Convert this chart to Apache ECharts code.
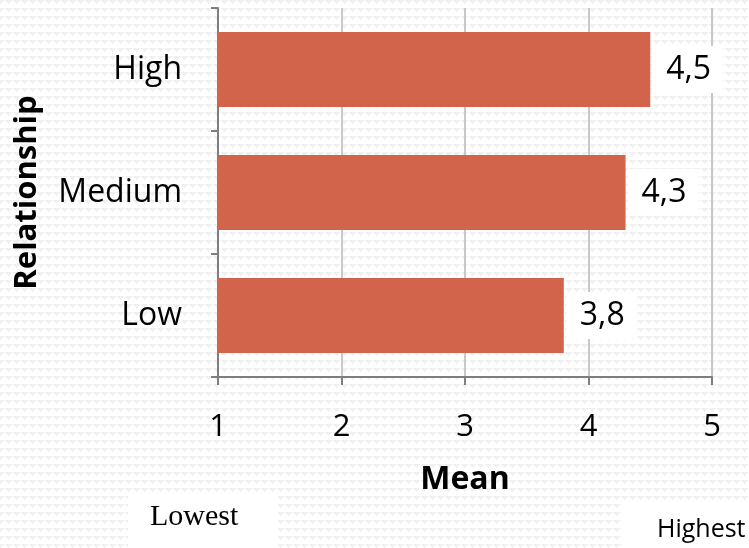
<!DOCTYPE html>
<html>
<head>
<meta charset="utf-8">
<script src="https://cdn.jsdelivr.net/npm/echarts@6/dist/echarts.min.js"></script>
<style>
html,body{margin:0;padding:0;}
body{
  width:749px;height:548px;
  background-color:#ffffff;
  background-image:
    linear-gradient(135deg, #f0f0f0 25%, transparent 25%),
    linear-gradient(225deg, #f0f0f0 25%, transparent 25%);
  background-size:8px 8px;
  background-position:0 0;
}
#chart{width:749px;height:548px;}
</style>
</head>
<body>
<div id="chart"></div>
<script>
var categories = ['Low', 'Medium', 'High'];
var values = [3.8, 4.3, 4.5];
var xTicks = [1, 2, 3, 4, 5];

var chart = echarts.init(document.getElementById('chart'), null, {renderer: 'canvas'});
var font = '"Open Sans", "Noto Sans", sans-serif';
chart.setOption({
  backgroundColor: 'transparent',
  animation: false,
  grid: {left: 218, right: 37, top: 8, bottom: 171, containLabel: false, outerBoundsMode: 'none'},
  xAxis: {
    type: 'value',
    min: xTicks[0], max: xTicks[xTicks.length - 1], interval: 1,
    name: 'Mean', nameLocation: 'middle', nameGap: 87,
    nameTextStyle: {fontFamily: font, fontSize: 32, fontWeight: 'bold', color: '#000'},
    axisLine: {show: true, lineStyle: {color: '#7f7f7f', width: 2}},
    axisTick: {show: true, length: 8, lineStyle: {color: '#7f7f7f', width: 2}},
    axisLabel: {fontFamily: font, fontSize: 31, color: '#000', margin: 35,
      formatter: function (v) { return String(v); }},
    splitLine: {show: true, lineStyle: {color: '#c8c8c8', width: 2}}
  },
  yAxis: {
    type: 'category',
    data: categories,
    name: 'Relationship', nameLocation: 'middle', nameGap: 175, nameRotate: 90,
    nameTextStyle: {fontFamily: font, fontSize: 31, fontWeight: 'bold', color: '#000'},
    axisLine: {show: true, lineStyle: {color: '#7f7f7f', width: 2}},
    axisTick: {show: true, length: 7, alignWithLabel: false, lineStyle: {color: '#7f7f7f', width: 2}},
    axisLabel: {fontFamily: font, fontSize: 32, color: '#000', margin: 36},
    splitLine: {show: false}
  },
  series: [{
    type: 'bar',
    data: values,
    barCategoryGap: '39%',
    itemStyle: {color: '#D1644A'},
    label: {
      show: true, position: 'right', distance: 3,
      fontFamily: font, fontSize: 32, color: '#000',
      backgroundColor: '#ffffff',
      padding: [13, 12, 2, 13],
      formatter: function (p) { return String(p.value).replace('.', ','); }
    }
  }],
  graphic: [
    {type: 'rect', shape: {x: 128, y: 492, width: 150, height: 56}, style: {fill: '#ffffff'}},
    {type: 'text', x: 150, y: 517, style: {text: 'Lowest', font: '30px "Liberation Serif", serif', fill: '#000', verticalAlign: 'middle'}},
    {type: 'rect', shape: {x: 622, y: 503, width: 127, height: 45}, style: {fill: '#ffffff'}},
    {type: 'text', x: 657, y: 530, style: {text: 'Highest', font: '25px "Open Sans", sans-serif', fill: '#000', verticalAlign: 'middle'}}
  ]
});
</script>
</body>
</html>
